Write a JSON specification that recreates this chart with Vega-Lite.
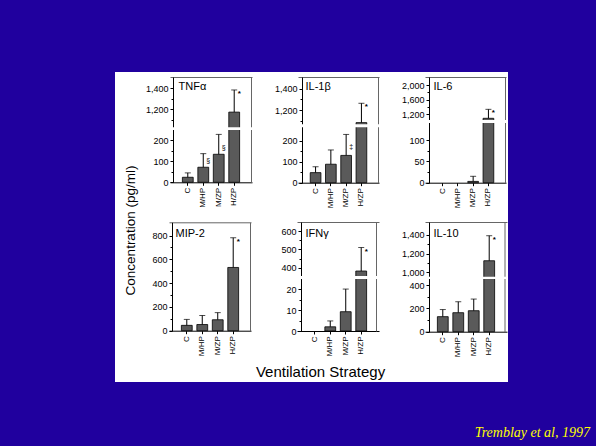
{
"$schema": "https://vega.github.io/schema/vega-lite/v6.json",
"background": "#20009e",
"padding": {"left": 115, "top": 72, "right": 8, "bottom": 8},
"bounds": "flush",
"spacing": 0,
"columns": 3,
"title": {"text": "Tremblay et al, 1997", "orient": "bottom", "anchor": "end", "font": "Liberation Serif", "fontStyle": "italic", "fontSize": 14, "fontWeight": "normal", "color": "#ffff00", "dx": 82, "offset": 55, "baseline": "alphabetic"},
"config": {
  "font": "Liberation Sans",
  "view": {"fill": "white", "stroke": null},
  "axis": {"domainColor": "black", "tickColor": "black", "labelColor": "black", "labelFontSize": 9, "tickSize": 3, "labelPadding": 2, "grid": false, "domainWidth": 1, "tickWidth": 1, "titleColor": "black", "titleFontWeight": "normal"}
},
"concat": [
{
 "width": 147, "height": 144,
 "data": {"values": [{"g":"C","v":24,"hi":45,"sig":""},{"g":"M/HP","v":72,"hi":137,"sig":"§"},{"g":"M/ZP","v":134,"hi":229,"sig":"§"},{"g":"H/ZP","v":1174,"hi":1384,"sig":"*"}]},
 "layer": [
  {"transform": [{"filter": "datum.v > 0"}], "mark": {"type": "bar", "fill": "#5a5a5a", "stroke": "black", "strokeWidth": 0.8},
   "encoding": {
    "x": {"field": "g", "type": "nominal", "sort": null, "scale": {"type": "band", "domain": ["C","M/HP","M/ZP","H/ZP"], "range": [55,137], "paddingInner": 0.3, "paddingOuter": 0.8}, "axis": {"orient": "bottom", "offset": -33.7, "labelAngle": -90, "labelFontSize": 8, "title": null}},
    "y": {"field": "v", "type": "quantitative", "scale": {"domain": [0,250,1030,1507], "range": [110.3,58,55.3,5], "nice": false, "zero": false}, "axis": {"orient": "left", "offset": -58, "values": [0,100,200,1200,1400], "format": ",.0f", "title": null}},
    "y2": {"datum": 0}}},
  {"transform": [{"filter": "datum.hi > 0"}], "mark": {"type": "rule", "color": "black", "strokeWidth": 1},
   "encoding": {
    "x": {"field": "g", "type": "nominal", "sort": null, "axis": {"orient": "top", "offset": -5, "labels": false, "ticks": false, "domainColor": "#666", "title": "TNFα", "titleX": 63, "titleY": 12, "titleAlign": "left", "titleBaseline": "alphabetic", "titleAngle": 0, "titleFontSize": 11}},
    "y": {"field": "v", "type": "quantitative", "axis": {"orient": "right", "offset": -11, "labels": false, "ticks": false, "title": null, "domainColor": "#666"}},
    "y2": {"field": "hi"}}},
  {"transform": [{"filter": "datum.hi > 0"}], "mark": {"type": "tick", "color": "black", "thickness": 1, "size": 6, "orient": "horizontal"},
   "encoding": {"x": {"field": "g", "type": "nominal", "sort": null, "axis": null}, "y": {"field": "hi", "type": "quantitative", "axis": {"orient": "left", "offset": -58, "values": [50,150,1100,1300], "labels": false, "domain": false, "tickSize": 2, "title": null}}}},
  {"transform": [{"filter": "datum.sig == '*'"}], "mark": {"type": "text", "dx": 5, "dy": 4, "fontSize": 8, "fontWeight": "bold", "color": "black"},
   "encoding": {"x": {"field": "g", "type": "nominal", "sort": null, "axis": null}, "y": {"field": "hi", "type": "quantitative", "axis": null}, "text": {"field": "sig"}}},
  {"transform": [{"filter": "datum.sig != '' && datum.sig != '*'"}], "mark": {"type": "text", "dx": 5, "dy": -6, "fontSize": 7, "color": "black"},
   "encoding": {"x": {"field": "g", "type": "nominal", "sort": null, "axis": null}, "y": {"field": "v", "type": "quantitative", "axis": null}, "text": {"field": "sig"}}},
  {"data": {"values": [{}]}, "mark": {"type": "rect", "fill": "white"},
   "encoding": {"y": {"datum": 250, "type": "quantitative", "axis": null}, "y2": {"datum": 1030}}}
 ],
 "resolve": {"axis": {"x": "independent", "y": "independent"}}
},
{
 "width": 136, "height": 144,
 "data": {"values": [{"g":"C","v":48,"hi":76,"sig":""},{"g":"M/HP","v":88,"hi":156,"sig":""},{"g":"M/ZP","v":130,"hi":230,"sig":"‡"},{"g":"H/ZP","v":1080,"hi":1264,"sig":"*"}]},
 "layer": [
  {"transform": [{"filter": "datum.v > 0"}], "mark": {"type": "bar", "fill": "#5a5a5a", "stroke": "black", "strokeWidth": 0.8},
   "encoding": {
    "x": {"field": "g", "type": "nominal", "sort": null, "scale": {"type": "band", "domain": ["C","M/HP","M/ZP","H/ZP"], "range": [36,117], "paddingInner": 0.3, "paddingOuter": 0.8}, "axis": {"orient": "bottom", "offset": -33.3, "labelAngle": -90, "labelFontSize": 8, "title": null}},
    "y": {"field": "v", "type": "quantitative", "scale": {"domain": [0,264,1064,1514], "range": [110.7,55.3,52.3,5], "nice": false, "zero": false}, "axis": {"orient": "left", "offset": -40, "values": [0,100,200,1200,1400], "format": ",.0f", "title": null}},
    "y2": {"datum": 0}}},
  {"transform": [{"filter": "datum.hi > 0"}], "mark": {"type": "rule", "color": "black", "strokeWidth": 1},
   "encoding": {
    "x": {"field": "g", "type": "nominal", "sort": null, "axis": {"orient": "top", "offset": -5, "labels": false, "ticks": false, "domainColor": "#666", "title": "IL-1β", "titleX": 43, "titleY": 12, "titleAlign": "left", "titleBaseline": "alphabetic", "titleAngle": 0, "titleFontSize": 11}},
    "y": {"field": "v", "type": "quantitative", "axis": {"orient": "right", "offset": -20, "labels": false, "ticks": false, "title": null, "domainColor": "#666"}},
    "y2": {"field": "hi"}}},
  {"transform": [{"filter": "datum.hi > 0"}], "mark": {"type": "tick", "color": "black", "thickness": 1, "size": 6, "orient": "horizontal"},
   "encoding": {"x": {"field": "g", "type": "nominal", "sort": null, "axis": null}, "y": {"field": "hi", "type": "quantitative", "axis": {"orient": "left", "offset": -40, "values": [50,150,1100,1300], "labels": false, "domain": false, "tickSize": 2, "title": null}}}},
  {"transform": [{"filter": "datum.sig == '*'"}], "mark": {"type": "text", "dx": 5, "dy": 4, "fontSize": 8, "fontWeight": "bold", "color": "black"},
   "encoding": {"x": {"field": "g", "type": "nominal", "sort": null, "axis": null}, "y": {"field": "hi", "type": "quantitative", "axis": null}, "text": {"field": "sig"}}},
  {"transform": [{"filter": "datum.sig != '' && datum.sig != '*'"}], "mark": {"type": "text", "dx": 5, "dy": -8, "fontSize": 7, "color": "black"},
   "encoding": {"x": {"field": "g", "type": "nominal", "sort": null, "axis": null}, "y": {"field": "v", "type": "quantitative", "axis": null}, "text": {"field": "sig"}}},
  {"data": {"values": [{}]}, "mark": {"type": "rect", "fill": "white"},
   "encoding": {"y": {"datum": 264, "type": "quantitative", "axis": null}, "y2": {"datum": 1064}}}
 ],
 "resolve": {"axis": {"x": "independent", "y": "independent"}}
},
{
 "width": 110, "height": 144,
 "data": {"values": [{"g":"C","v":0,"hi":0,"sig":""},{"g":"M/HP","v":0,"hi":0,"sig":""},{"g":"M/ZP","v":3,"hi":15,"sig":""},{"g":"H/ZP","v":1080,"hi":1330,"sig":"*"}]},
 "layer": [
  {"transform": [{"filter": "datum.v > 0"}], "mark": {"type": "bar", "fill": "#5a5a5a", "stroke": "black", "strokeWidth": 0.8},
   "encoding": {
    "x": {"field": "g", "type": "nominal", "sort": null, "scale": {"type": "band", "domain": ["C","M/HP","M/ZP","H/ZP"], "range": [27,108], "paddingInner": 0.3, "paddingOuter": 0.8}, "axis": {"orient": "bottom", "offset": -33.3, "labelAngle": -90, "labelFontSize": 8, "title": null}},
    "y": {"field": "v", "type": "quantitative", "scale": {"domain": [0,140,1033,2230], "range": [110.7,51,48,5], "nice": false, "zero": false}, "axis": {"orient": "left", "offset": -31, "values": [0,50,100,1200,1600,2000], "format": ",.0f", "title": null}},
    "y2": {"datum": 0}}},
  {"transform": [{"filter": "datum.hi > 0"}], "mark": {"type": "rule", "color": "black", "strokeWidth": 1},
   "encoding": {
    "x": {"field": "g", "type": "nominal", "sort": null, "axis": {"orient": "top", "offset": -5, "labels": false, "ticks": false, "domainColor": "#666", "title": "IL-6", "titleX": 35, "titleY": 12, "titleAlign": "left", "titleBaseline": "alphabetic", "titleAngle": 0, "titleFontSize": 11}},
    "y": {"field": "v", "type": "quantitative", "axis": {"orient": "right", "offset": -3, "labels": false, "ticks": false, "title": null, "domainColor": "#666"}},
    "y2": {"field": "hi"}}},
  {"transform": [{"filter": "datum.hi > 0"}], "mark": {"type": "tick", "color": "black", "thickness": 1, "size": 6, "orient": "horizontal"},
   "encoding": {"x": {"field": "g", "type": "nominal", "sort": null, "axis": null}, "y": {"field": "hi", "type": "quantitative", "axis": {"orient": "left", "offset": -31, "values": [25,75,1400,1800], "labels": false, "domain": false, "tickSize": 2, "title": null}}}},
  {"transform": [{"filter": "datum.sig == '*'"}], "mark": {"type": "text", "dx": 5, "dy": 4, "fontSize": 8, "fontWeight": "bold", "color": "black"},
   "encoding": {"x": {"field": "g", "type": "nominal", "sort": null, "axis": null}, "y": {"field": "hi", "type": "quantitative", "axis": null}, "text": {"field": "sig"}}},
  {"data": {"values": [{}]}, "mark": {"type": "rect", "fill": "white"},
   "encoding": {"y": {"datum": 140, "type": "quantitative", "axis": null}, "y2": {"datum": 1033}}}
 ],
 "resolve": {"axis": {"x": "independent", "y": "independent"}}
},
{
 "width": 147, "height": 166,
 "data": {"values": [{"g":"C","v":45,"hi":95,"sig":""},{"g":"M/HP","v":52,"hi":128,"sig":""},{"g":"M/ZP","v":92,"hi":152,"sig":""},{"g":"H/ZP","v":532,"hi":782,"sig":"*"}]},
 "layer": [
  {"transform": [{"filter": "datum.v > 0"}], "mark": {"type": "bar", "fill": "#5a5a5a", "stroke": "black", "strokeWidth": 0.8},
   "encoding": {
    "x": {"field": "g", "type": "nominal", "sort": null, "scale": {"type": "band", "domain": ["C","M/HP","M/ZP","H/ZP"], "range": [54,136], "paddingInner": 0.3, "paddingOuter": 0.8}, "axis": {"orient": "bottom", "offset": -51.3, "labelAngle": -90, "labelFontSize": 8, "title": null}},
    "y": {"field": "v", "type": "quantitative", "scale": {"domain": [0,912], "range": [114.7,6.3], "nice": false, "zero": false}, "axis": {"orient": "left", "offset": -57, "values": [0,200,400,600,800], "format": ",.0f", "title": "Concentration (pg/ml)", "titleX": -42, "titleY": 14, "titleAngle": -90, "titleAlign": "center", "titleBaseline": "middle", "titleFontSize": 13.5}},
    "y2": {"datum": 0}}},
  {"transform": [{"filter": "datum.hi > 0"}], "mark": {"type": "rule", "color": "black", "strokeWidth": 1},
   "encoding": {
    "x": {"field": "g", "type": "nominal", "sort": null, "axis": {"orient": "top", "offset": -6.3, "labels": false, "ticks": false, "domainColor": "#666", "title": "MIP-2", "titleX": 60, "titleY": 13.7, "titleAlign": "left", "titleBaseline": "alphabetic", "titleAngle": 0, "titleFontSize": 11}},
    "y": {"field": "v", "type": "quantitative", "axis": {"orient": "right", "offset": -12, "labels": false, "ticks": false, "title": null, "domainColor": "#666"}},
    "y2": {"field": "hi"}}},
  {"transform": [{"filter": "datum.hi > 0"}], "mark": {"type": "tick", "color": "black", "thickness": 1, "size": 6, "orient": "horizontal"},
   "encoding": {"x": {"field": "g", "type": "nominal", "sort": null, "axis": null}, "y": {"field": "hi", "type": "quantitative", "axis": {"orient": "left", "offset": -57, "values": [100,300,500,700], "labels": false, "domain": false, "tickSize": 2, "title": null}}}},
  {"transform": [{"filter": "datum.sig == '*'"}], "mark": {"type": "text", "dx": 5, "dy": 4, "fontSize": 8, "fontWeight": "bold", "color": "black"},
   "encoding": {"x": {"field": "g", "type": "nominal", "sort": null, "axis": null}, "y": {"field": "hi", "type": "quantitative", "axis": null}, "text": {"field": "sig"}}}
 ],
 "resolve": {"axis": {"x": "independent", "y": "independent"}}
},
{
 "width": 136, "height": 166,
 "data": {"values": [{"g":"C","v":0,"hi":0,"sig":""},{"g":"M/HP","v":2,"hi":4.8,"sig":""},{"g":"M/ZP","v":9.2,"hi":20,"sig":""},{"g":"H/ZP","v":382,"hi":510,"sig":"*"}]},
 "layer": [
  {"transform": [{"filter": "datum.v > 0"}], "mark": {"type": "bar", "fill": "#5a5a5a", "stroke": "black", "strokeWidth": 0.8},
   "encoding": {
    "x": {"field": "g", "type": "nominal", "sort": null, "scale": {"type": "band", "domain": ["C","M/HP","M/ZP","H/ZP"], "range": [35,117], "paddingInner": 0.3, "paddingOuter": 0.8}, "axis": {"orient": "bottom", "offset": -51, "labelAngle": -90, "labelFontSize": 8, "title": "Ventilation Strategy", "titleX": 58, "titleY": 40, "titleAlign": "center", "titleBaseline": "middle", "titleAngle": 0, "titleFontSize": 15}},
    "y": {"field": "v", "type": "quantitative", "scale": {"domain": [0,24.8,355,649], "range": [115,63,60,6], "nice": false, "zero": false}, "axis": {"orient": "left", "offset": -39, "values": [0,10,20,400,500,600], "format": ",.0f", "title": null}},
    "y2": {"datum": 0}}},
  {"transform": [{"filter": "datum.hi > 0"}], "mark": {"type": "rule", "color": "black", "strokeWidth": 1},
   "encoding": {
    "x": {"field": "g", "type": "nominal", "sort": null, "axis": {"orient": "top", "offset": -6, "labels": false, "ticks": false, "domainColor": "#666", "title": "IFNγ", "titleX": 43, "titleY": 14, "titleAlign": "left", "titleBaseline": "alphabetic", "titleAngle": 0, "titleFontSize": 11}},
    "y": {"field": "v", "type": "quantitative", "axis": {"orient": "right", "offset": -22, "labels": false, "ticks": false, "title": null, "domainColor": "#666"}},
    "y2": {"field": "hi"}}},
  {"transform": [{"filter": "datum.hi > 0"}], "mark": {"type": "tick", "color": "black", "thickness": 1, "size": 6, "orient": "horizontal"},
   "encoding": {"x": {"field": "g", "type": "nominal", "sort": null, "axis": null}, "y": {"field": "hi", "type": "quantitative", "axis": {"orient": "left", "offset": -39, "values": [5,15,450,550], "labels": false, "domain": false, "tickSize": 2, "title": null}}}},
  {"transform": [{"filter": "datum.sig == '*'"}], "mark": {"type": "text", "dx": 5, "dy": 4, "fontSize": 8, "fontWeight": "bold", "color": "black"},
   "encoding": {"x": {"field": "g", "type": "nominal", "sort": null, "axis": null}, "y": {"field": "hi", "type": "quantitative", "axis": null}, "text": {"field": "sig"}}},
  {"data": {"values": [{}]}, "mark": {"type": "rect", "fill": "white"},
   "encoding": {"y": {"datum": 24.8, "type": "quantitative", "axis": null}, "y2": {"datum": 355}}}
 ],
 "resolve": {"axis": {"x": "independent", "y": "independent"}}
},
{
 "width": 110, "height": 166,
 "data": {"values": [{"g":"C","v":129,"hi":190,"sig":""},{"g":"M/HP","v":163,"hi":257,"sig":""},{"g":"M/ZP","v":180,"hi":280,"sig":""},{"g":"H/ZP","v":1124,"hi":1392,"sig":"*"}]},
 "layer": [
  {"transform": [{"filter": "datum.v > 0"}], "mark": {"type": "bar", "fill": "#5a5a5a", "stroke": "black", "strokeWidth": 0.8},
   "encoding": {
    "x": {"field": "g", "type": "nominal", "sort": null, "scale": {"type": "band", "domain": ["C","M/HP","M/ZP","H/ZP"], "range": [27,109], "paddingInner": 0.3, "paddingOuter": 0.8}, "axis": {"orient": "bottom", "offset": -50.3, "labelAngle": -90, "labelFontSize": 8, "title": null}},
    "y": {"field": "v", "type": "quantitative", "scale": {"domain": [0,452,953,1539], "range": [115.7,63,60.7,6], "nice": false, "zero": false}, "axis": {"orient": "left", "offset": -31, "values": [0,200,400,1000,1200,1400], "format": ",.0f", "title": null}},
    "y2": {"datum": 0}}},
  {"transform": [{"filter": "datum.hi > 0"}], "mark": {"type": "rule", "color": "black", "strokeWidth": 1},
   "encoding": {
    "x": {"field": "g", "type": "nominal", "sort": null, "axis": {"orient": "top", "offset": -6, "labels": false, "ticks": false, "domainColor": "#666", "title": "IL-10", "titleX": 35, "titleY": 14, "titleAlign": "left", "titleBaseline": "alphabetic", "titleAngle": 0, "titleFontSize": 11}},
    "y": {"field": "v", "type": "quantitative", "axis": {"orient": "right", "offset": -3.5, "labels": false, "ticks": false, "title": null, "domainColor": "#666"}},
    "y2": {"field": "hi"}}},
  {"transform": [{"filter": "datum.hi > 0"}], "mark": {"type": "tick", "color": "black", "thickness": 1, "size": 6, "orient": "horizontal"},
   "encoding": {"x": {"field": "g", "type": "nominal", "sort": null, "axis": null}, "y": {"field": "hi", "type": "quantitative", "axis": {"orient": "left", "offset": -31, "values": [100,300,1100,1300], "labels": false, "domain": false, "tickSize": 2, "title": null}}}},
  {"transform": [{"filter": "datum.sig == '*'"}], "mark": {"type": "text", "dx": 5, "dy": 4, "fontSize": 8, "fontWeight": "bold", "color": "black"},
   "encoding": {"x": {"field": "g", "type": "nominal", "sort": null, "axis": null}, "y": {"field": "hi", "type": "quantitative", "axis": null}, "text": {"field": "sig"}}},
  {"data": {"values": [{}]}, "mark": {"type": "rect", "fill": "white"},
   "encoding": {"y": {"datum": 452, "type": "quantitative", "axis": null}, "y2": {"datum": 953}}}
 ],
 "resolve": {"axis": {"x": "independent", "y": "independent"}}
}
]
}
